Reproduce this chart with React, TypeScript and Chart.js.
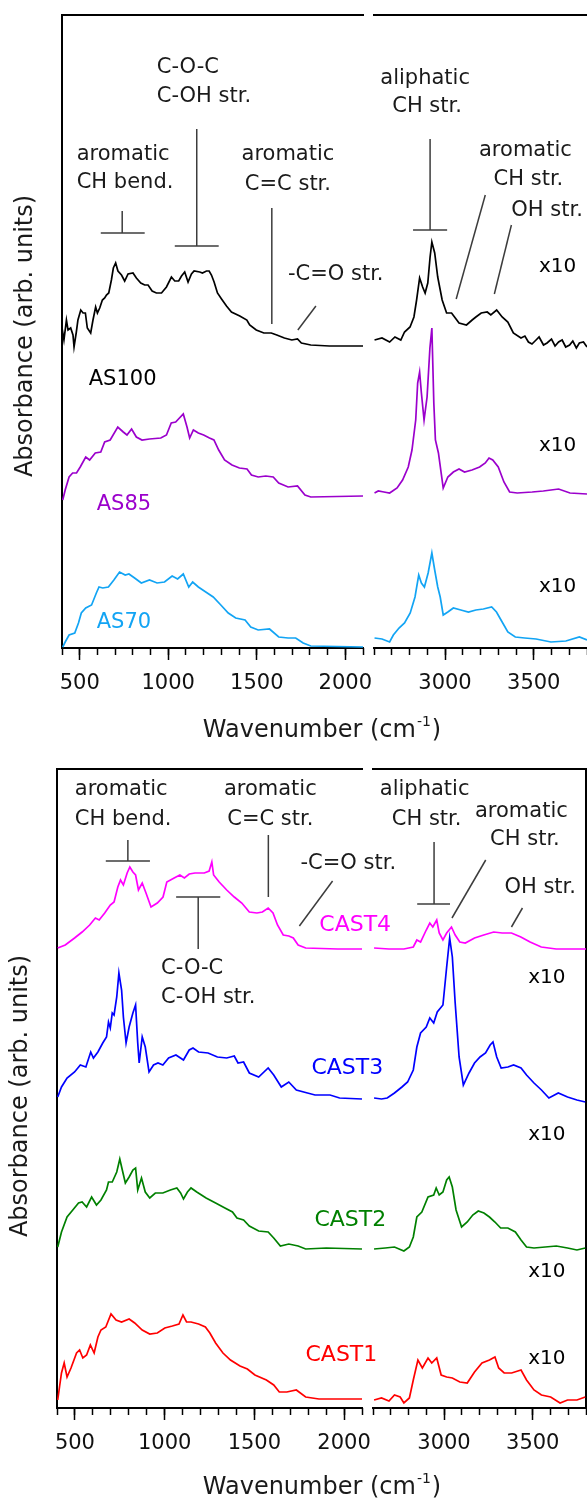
import React, { useEffect, useRef } from 'react';
import { Chart, registerables } from 'chart.js';

Chart.register(...registerables);

type Pt = [number, number];

// ---------- axes ----------
const LEFT_RANGE: Pt = [400, 2100];
const RIGHT_RANGE: Pt = [2600, 3800];
const LEFT_MAJOR_TICKS = [500, 1000, 1500, 2000];
const RIGHT_MAJOR_TICKS = [3000, 3500];
const MINOR_STEP = 100;
const X_TITLE = 'Wavenumber (cm';
const X_TITLE_SUP = '-1';
const X_TITLE_END = ')';
const Y_TITLE = 'Absorbance (arb. units)';

// ---------- top panel spectra: [wavenumber, absorbance (offset, arb.)] ----------
const AS100_LEFT: Pt[] = [[400,320],[411,308],[425,328],[434,318],[449,320],[462,313],[468,301],[481,316],[490,328],[506,338],[519,335],[532,335],[543,320],[562,315],[575,328],[590,341],[600,335],[613,340],[628,348],[641,350],[651,353],[664,355],[679,368],[690,380],[703,385],[716,377],[736,373],[754,367],[773,374],[801,375],[820,370],[845,365],[867,363],[886,363],[909,357],[933,355],[962,355],[990,361],[1018,371],[1037,367],[1059,367],[1075,372],[1093,376],[1112,366],[1131,374],[1146,377],[1178,376],[1193,375],[1216,377],[1231,377],[1244,373],[1259,366],[1278,355],[1301,349],[1329,342],[1357,336],[1404,332],[1444,328],[1460,323],[1497,318],[1540,315],[1582,315],[1613,313],[1656,310],[1698,308],[1730,309],[1752,305],[1805,303],[1910,302],[2100,302]];
const AS100_RIGHT: Pt[] = [[2603,308],[2645,310],[2688,306],[2718,311],[2751,308],[2772,316],[2803,321],[2825,331],[2840,348],[2857,370],[2874,361],[2888,355],[2903,365],[2916,391],[2926,406],[2942,395],[2959,371],[2984,348],[3009,335],[3037,335],[3058,330],[3079,325],[3121,323],[3153,328],[3174,331],[3204,335],[3238,336],[3258,333],[3291,338],[3322,331],[3354,326],[3385,315],[3428,310],[3450,312],[3470,306],[3490,304],[3513,308],[3530,311],[3555,303],[3575,305],[3600,309],[3620,302],[3640,306],[3660,308],[3680,301],[3702,303],[3720,307],[3740,300],[3757,305],[3780,306],[3800,301]];
const AS85_LEFT: Pt[] = [[404,148],[418,158],[440,171],[460,175],[482,175],[503,181],[534,191],[556,188],[588,195],[619,196],[641,206],[672,208],[715,221],[746,216],[767,213],[793,219],[820,211],[852,208],[894,209],[958,210],[990,213],[1017,225],[1042,226],[1085,234],[1106,221],[1121,210],[1142,218],[1170,215],[1200,213],[1233,210],[1258,208],[1285,198],[1318,188],[1360,183],[1402,180],[1445,179],[1470,173],[1508,171],[1551,172],[1593,171],[1624,165],[1677,161],[1730,162],[1772,153],[1805,151],[2100,152]];
const AS85_RIGHT: Pt[] = [[2603,155],[2624,157],[2656,156],[2688,155],[2730,160],[2761,168],[2793,181],[2814,198],[2835,228],[2846,265],[2857,276],[2867,255],[2882,228],[2899,251],[2915,300],[2926,320],[2937,245],[2946,208],[2963,195],[2990,160],[3016,171],[3047,176],[3079,179],[3110,176],[3152,178],[3195,181],[3227,185],[3248,190],[3269,188],[3300,181],[3332,166],[3364,156],[3407,155],[3491,156],[3554,157],[3640,159],[3704,155],[3800,154]];
const AS70_LEFT: Pt[] = [[404,1],[418,6],[440,13],[472,15],[493,25],[509,35],[534,40],[567,43],[594,55],[609,61],[630,60],[662,61],[693,68],[725,76],[757,73],[778,74],[810,70],[848,65],[894,68],[937,65],[979,66],[1022,72],[1053,69],[1085,74],[1116,61],[1138,66],[1170,61],[1212,56],[1254,51],[1297,43],[1339,35],[1381,30],[1434,28],[1466,21],[1508,18],[1572,19],[1624,11],[1677,10],[1720,10],[1762,5],[1805,2],[2100,1]];
const AS70_RIGHT: Pt[] = [[2603,10],[2645,9],[2688,6],[2709,13],[2741,20],[2772,25],[2804,35],[2831,51],[2852,73],[2867,65],[2884,61],[2905,75],[2926,95],[2942,78],[2959,61],[2973,51],[2990,33],[3016,36],[3047,40],[3089,38],[3132,36],[3174,38],[3216,39],[3263,41],[3290,36],[3322,26],[3354,16],[3396,11],[3449,10],[3513,9],[3597,6],[3681,7],[3757,11],[3800,8]];

// ---------- bottom panel spectra ----------
const CAST4_LEFT: Pt[] = [[404,460],[446,463],[498,470],[540,476],[582,483],[614,490],[635,488],[666,495],[697,503],[718,506],[739,521],[754,528],[770,523],[791,535],[806,541],[823,536],[838,533],[854,518],[875,525],[896,515],[924,501],[959,505],[991,511],[1012,526],[1053,530],[1085,533],[1110,530],[1137,534],[1169,535],[1221,535],[1248,537],[1263,546],[1273,533],[1304,526],[1346,518],[1388,511],[1430,505],[1472,496],[1514,495],[1545,496],[1577,500],[1604,495],[1629,483],[1661,473],[1692,472],[1717,470],[1744,463],[1786,460],[1964,459],[2100,459]];
const CAST4_RIGHT: Pt[] = [[2606,460],[2690,459],[2774,459],[2827,461],[2847,468],[2868,466],[2900,478],[2920,485],[2937,481],[2959,488],[2973,475],[2994,468],[3015,475],[3042,481],[3063,473],[3089,466],[3120,465],[3172,470],[3224,473],[3280,476],[3328,475],[3380,475],[3433,471],[3485,466],[3548,461],[3632,459],[3695,459],[3788,459],[3800,459]];
const CAST3_LEFT: Pt[] = [[404,311],[425,321],[456,330],[498,336],[530,343],[561,341],[588,356],[603,350],[628,356],[655,365],[676,371],[687,386],[697,380],[708,395],[718,393],[733,411],[745,435],[760,418],[770,391],[785,365],[802,381],[823,395],[838,403],[850,365],[858,345],[875,371],[892,361],[913,336],[938,343],[963,345],[990,343],[1022,350],[1063,353],[1105,348],[1137,358],[1158,360],[1189,356],[1242,355],[1294,351],[1346,350],[1388,352],[1409,345],[1440,346],[1472,335],[1524,331],[1577,340],[1608,333],[1650,321],[1692,326],[1734,318],[1796,315],[1838,313],[1922,313],[1975,310],[2100,309]];
const CAST3_RIGHT: Pt[] = [[2606,310],[2648,309],[2680,310],[2721,315],[2763,321],[2795,326],[2827,338],[2847,361],[2868,375],[2900,381],[2920,390],[2942,385],[2962,396],[2994,403],[3015,441],[3032,470],[3047,451],[3063,405],[3085,351],[3109,323],[3141,335],[3172,345],[3203,351],[3234,355],[3260,363],[3276,366],[3297,351],[3322,340],[3360,341],[3392,343],[3434,340],[3465,333],[3507,325],[3549,318],[3591,310],[3644,315],[3696,311],[3749,308],[3796,306]];
const CAST2_LEFT: Pt[] = [[404,161],[425,176],[456,191],[488,198],[520,205],[540,206],[565,201],[593,211],[620,203],[645,208],[676,218],[687,226],[708,226],[733,236],[750,249],[764,238],[781,225],[802,231],[823,238],[838,240],[850,218],[871,230],[892,216],[917,210],[948,215],[990,215],[1032,218],[1068,220],[1089,215],[1105,209],[1127,216],[1147,220],[1179,216],[1231,210],[1284,205],[1336,200],[1378,196],[1403,190],[1440,188],[1472,182],[1524,177],[1577,176],[1608,170],[1645,162],[1692,164],[1744,162],[1786,159],[1901,160],[2100,159]];
const CAST2_RIGHT: Pt[] = [[2606,159],[2669,160],[2721,161],[2774,157],[2805,161],[2827,171],[2847,191],[2875,196],[2910,211],[2942,213],[2956,220],[2973,213],[2994,216],[3015,228],[3029,231],[3047,221],[3068,198],[3099,181],[3131,186],[3162,193],[3193,197],[3225,195],[3256,191],[3287,186],[3319,180],[3360,180],[3402,176],[3434,168],[3465,161],[3507,160],[3570,161],[3633,162],[3696,160],[3749,158],[3796,160]];
const CAST1_LEFT: Pt[] = [[404,8],[414,21],[425,35],[440,45],[456,31],[478,40],[509,55],[526,58],[544,50],[565,53],[586,63],[607,55],[628,71],[645,78],[672,81],[701,94],[729,88],[760,86],[802,89],[833,85],[875,78],[917,74],[959,75],[1001,80],[1043,82],[1080,84],[1102,93],[1122,86],[1147,86],[1189,84],[1227,81],[1252,75],[1284,65],[1325,55],[1367,48],[1420,42],[1461,39],[1503,33],[1567,28],[1608,23],[1639,16],[1681,16],[1734,18],[1786,11],[1860,9],[2100,9]];
const CAST1_RIGHT: Pt[] = [[2606,8],[2648,10],[2690,7],[2721,13],[2753,11],[2774,5],[2805,10],[2827,28],[2853,48],[2878,40],[2910,50],[2931,45],[2959,50],[2984,33],[3015,31],[3047,30],[3089,26],[3131,25],[3172,36],[3214,45],[3256,48],[3287,51],[3308,40],[3339,35],[3381,35],[3434,38],[3465,28],[3507,18],[3549,13],[3601,11],[3654,5],[3696,8],[3749,8],[3796,11]];

// ---------- styles ----------
const FONT = '"DejaVu Sans", sans-serif';
const COLORS = {
  AS100: '#000000', AS85: '#9b00cc', AS70: '#12a4f4',
  CAST4: '#ff00ff', CAST3: '#0000ff', CAST2: '#008000', CAST1: '#ff0000',
};
const TEXT_COLOR = '#1a1a1a';
const LINE_COLOR = '#3c3c3c';
const W = 587;

type Series = { color: string; left: Pt[]; right: Pt[] };
const TOP_SERIES: Series[] = [
  { color: COLORS.AS100, left: AS100_LEFT, right: AS100_RIGHT },
  { color: COLORS.AS85, left: AS85_LEFT, right: AS85_RIGHT },
  { color: COLORS.AS70, left: AS70_LEFT, right: AS70_RIGHT },
];
const BOTTOM_SERIES: Series[] = [
  { color: COLORS.CAST4, left: CAST4_LEFT, right: CAST4_RIGHT },
  { color: COLORS.CAST3, left: CAST3_LEFT, right: CAST3_RIGHT },
  { color: COLORS.CAST2, left: CAST2_LEFT, right: CAST2_RIGHT },
  { color: COLORS.CAST1, left: CAST1_LEFT, right: CAST1_RIGHT },
];

type Ann =
  | { kind: 'text'; text: string; x: number; y: number; align?: CanvasTextAlign; color?: string; size?: number }
  | { kind: 'line'; x1: number; y1: number; x2: number; y2: number };

const T = (text: string, x: number, y: number, align: CanvasTextAlign = 'left', color?: string, size?: number): Ann => ({ kind: 'text', text, x, y, align, color, size });
const L = (x1: number, y1: number, x2: number, y2: number): Ann => ({ kind: 'line', x1, y1, x2, y2 });

const TOP_LEFT_ANN: Ann[] = [
  T('C-O-C', 935, 580), T('C-OH str.', 935, 551),
  L(1161, 519, 1161, 402), L(1037, 402, 1285, 402),
  T('aromatic', 483, 493), T('CH bend.', 483, 465),
  L(740, 437, 740, 415), L(619, 415, 867, 415),
  T('aromatic', 1676, 493, 'center'), T('C=C str.', 1676, 463, 'center'),
  L(1585, 440, 1585, 324),
  T('-C=O str.', 1676, 373),
  L(1834, 342, 1732, 318),
  T('AS100', 551, 268, 'left', COLORS.AS100, 21),
  T('AS85', 596, 143, 'left', COLORS.AS85, 21),
  T('AS70', 596, 25, 'left', COLORS.AS70, 21),
];
const TOP_RIGHT_ANN: Ann[] = [
  T('aliphatic', 2888, 569, 'center'), T('CH str.', 2899, 541, 'center'),
  L(2916, 509, 2916, 418), L(2820, 418, 3012, 418),
  T('aromatic', 3453, 497, 'center'), T('CH str.', 3470, 468, 'center'),
  T('OH str.', 3575, 437, 'center'),
  L(3227, 453, 3063, 349), L(3374, 423, 3278, 354),
  T('x10', 3634, 381, 'center', '#000', 20),
  T('x10', 3634, 202, 'center', '#000', 20),
  T('x10', 3634, 61, 'center', '#000', 20),
];
const BOTTOM_LEFT_ANN: Ann[] = [
  T('aromatic', 499, 618), T('CH bend.', 499, 588),
  L(795, 568, 795, 547), L(672, 547, 918, 547),
  T('aromatic', 1589, 618, 'center'), T('C=C str.', 1589, 588, 'center'),
  L(1578, 573, 1578, 511),
  T('-C=O str.', 1757, 544),
  L(1936, 527, 1751, 482),
  L(1064, 511, 1310, 511), L(1187, 511, 1187, 459),
  T('C-O-C', 980, 439), T('C-OH str.', 980, 410),
  T('CAST4', 1862, 483, 'left', COLORS.CAST4, 22),
  T('CAST3', 1818, 340, 'left', COLORS.CAST3, 22),
  T('CAST2', 1835, 188, 'left', COLORS.CAST2, 22),
  T('CAST1', 1785, 53, 'left', COLORS.CAST1, 22),
];
const BOTTOM_RIGHT_ANN: Ann[] = [
  T('aliphatic', 2891, 618, 'center'), T('CH str.', 2902, 588, 'center'),
  L(2944, 566, 2944, 504), L(2849, 504, 3034, 504),
  T('aromatic', 3436, 596, 'center'), T('CH str.', 3456, 568, 'center'),
  L(3235, 548, 3045, 490),
  T('OH str.', 3542, 520, 'center'),
  L(3442, 500, 3380, 481),
  T('x10', 3579, 430, 'center', '#000', 20),
  T('x10', 3579, 273, 'center', '#000', 20),
  T('x10', 3579, 136, 'center', '#000', 20),
  T('x10', 3579, 49, 'center', '#000', 20),
];

type Panel = {
  canvasTop: number; canvasH: number; plotTop: number; plotBottom: number;
  leftL: number; leftR: number; rightL: number; rightR: number;
  ymax: number; rightBorder: boolean; yTitleY: number; xTitleGap: number;
  series: Series[]; annL: Ann[]; annR: Ann[];
};

const PANELS: Panel[] = [
  { canvasTop: 0, canvasH: 750, plotTop: 15, plotBottom: 648, leftL: 62, leftR: 363, rightL: 374, rightR: 587,
    ymax: 633, rightBorder: false, yTitleY: 336, xTitleGap: 83, series: TOP_SERIES, annL: TOP_LEFT_ANN, annR: TOP_RIGHT_ANN },
  { canvasTop: 750, canvasH: 752, plotTop: 769, plotBottom: 1408, leftL: 57, leftR: 362, rightL: 373, rightR: 586,
    ymax: 639, rightBorder: true, yTitleY: 1096, xTitleGap: 80, series: BOTTOM_SERIES, annL: BOTTOM_LEFT_ANN, annR: BOTTOM_RIGHT_ANN },
];

function annPlugin(anns: Ann[]) {
  return {
    id: 'annotations',
    afterDraw(chart: any) {
      const { ctx } = chart;
      const xs = chart.scales.x;
      const ys = chart.scales.y;
      ctx.save();
      for (const a of anns) {
        if (a.kind === 'line') {
          ctx.strokeStyle = LINE_COLOR;
          ctx.lineWidth = 1.5;
          ctx.beginPath();
          ctx.moveTo(xs.getPixelForValue(a.x1), ys.getPixelForValue(a.y1));
          ctx.lineTo(xs.getPixelForValue(a.x2), ys.getPixelForValue(a.y2));
          ctx.stroke();
        } else {
          ctx.font = `${a.size ?? 21}px ${FONT}`;
          ctx.fillStyle = a.color ?? TEXT_COLOR;
          ctx.textAlign = a.align ?? 'left';
          ctx.textBaseline = 'middle';
          ctx.fillText(a.text, xs.getPixelForValue(a.x), ys.getPixelForValue(a.y));
        }
      }
      ctx.restore();
    },
  };
}

function titlePlugin(panel: Panel) {
  return {
    id: 'titles',
    afterDraw(chart: any) {
      const { ctx } = chart;
      ctx.save();
      ctx.fillStyle = TEXT_COLOR;
      // y title
      ctx.save();
      ctx.translate(panel.leftL - 36, panel.yTitleY - panel.canvasTop);
      ctx.rotate(-Math.PI / 2);
      ctx.font = `24px ${FONT}`;
      ctx.textAlign = 'center';
      ctx.textBaseline = 'middle';
      ctx.fillText(Y_TITLE, 0, 0);
      ctx.restore();
      // x title with superscript
      const big = `24px ${FONT}`;
      const small = `14px ${FONT}`;
      ctx.font = big;
      const w1 = ctx.measureText(X_TITLE).width;
      const w3 = ctx.measureText(X_TITLE_END).width;
      ctx.font = small;
      const w2 = ctx.measureText(X_TITLE_SUP).width;
      const total = w1 + w2 + w3 + 2;
      let x = 322 - total / 2;
      const y = panel.plotBottom + panel.xTitleGap - panel.canvasTop;
      ctx.textAlign = 'left';
      ctx.textBaseline = 'middle';
      ctx.font = big;
      ctx.fillText(X_TITLE, x, y);
      x += w1 + 1;
      ctx.font = small;
      ctx.fillText(X_TITLE_SUP, x, y - 9);
      x += w2 + 1;
      ctx.font = big;
      ctx.fillText(X_TITLE_END, x, y);
      ctx.restore();
    },
  };
}

function makeChart(canvas: HTMLCanvasElement, panel: Panel, isLeft: boolean) {
  const range = isLeft ? LEFT_RANGE : RIGHT_RANGE;
  const major = isLeft ? LEFT_MAJOR_TICKS : RIGHT_MAJOR_TICKS;
  const canvasLeft = isLeft ? 0 : panel.leftR;
  const plotL = isLeft ? panel.leftL : panel.rightL;
  const plotR = isLeft ? panel.leftR : panel.rightR;
  const bottomH = panel.canvasTop + panel.canvasH - panel.plotBottom;
  const black = '#000000';

  const scales: any = {
    x: {
      type: 'linear', position: 'bottom', min: range[0], max: range[1],
      afterFit: (s: any) => { s.height = bottomH; },
      afterBuildTicks: (s: any) => { s.ticks = major.map((value) => ({ value })); },
      ticks: {
        autoSkip: false, maxRotation: 0, minRotation: 0, padding: 11, color: '#111',
        font: { family: FONT, size: 21 },
        callback: (v: any) => String(v),
      },
      grid: { display: true, drawOnChartArea: false, drawTicks: true, tickLength: 12, tickWidth: 1.5, tickColor: black },
      border: { display: true, color: black, width: 2 },
    },
    xMinor: {
      type: 'linear', position: { y: 0 }, min: range[0], max: range[1],
      afterBuildTicks: (s: any) => {
        const t: any[] = [];
        for (let v = range[0]; v <= range[1]; v += MINOR_STEP) t.push({ value: v });
        s.ticks = t;
      },
      ticks: { display: false },
      grid: { display: true, drawOnChartArea: false, drawTicks: true, tickLength: 7, tickWidth: 1.5, tickColor: black },
      border: { display: false },
    },
    xTop: {
      type: 'linear', position: 'top', min: range[0], max: range[1],
      afterFit: (s: any) => { s.height = 0; },
      ticks: { display: false },
      grid: { display: false },
      border: { display: true, color: black, width: 2 },
    },
    y: {
      type: 'linear', position: 'left', min: 0, max: panel.ymax, display: isLeft,
      afterFit: (s: any) => { s.width = 0; },
      ticks: { display: false },
      grid: { display: false },
      border: { display: true, color: black, width: 2 },
    },
  };
  if (!isLeft && panel.rightBorder) {
    scales.yR = {
      type: 'linear', position: 'right', min: 0, max: panel.ymax,
      afterFit: (s: any) => { s.width = 0; },
      ticks: { display: false },
      grid: { display: false },
      border: { display: true, color: black, width: 2 },
    };
  }

  const datasets = panel.series.map((s) => ({
    data: (isLeft ? s.left : s.right).map(([x, y]) => ({ x, y })),
    borderColor: s.color,
    borderWidth: 1.7,
    pointRadius: 0,
    tension: 0,
    fill: false,
    xAxisID: 'x',
    yAxisID: 'y',
  }));

  const plugins: any[] = [annPlugin(isLeft ? panel.annL : panel.annR)];
  if (isLeft) plugins.push(titlePlugin(panel));

  return new Chart(canvas, {
    type: 'line',
    data: { datasets },
    options: {
      animation: false,
      responsive: false,
      devicePixelRatio: 1,
      events: [],
      layout: {
        padding: {
          left: plotL - canvasLeft,
          right: W - plotR,
          top: panel.plotTop - panel.canvasTop,
          bottom: 0,
        },
      },
      plugins: { legend: { display: false }, tooltip: { enabled: false }, title: { display: false } },
      scales,
    } as any,
    plugins,
  });
}

export default function App() {
  const refs = [useRef<HTMLCanvasElement>(null), useRef<HTMLCanvasElement>(null), useRef<HTMLCanvasElement>(null), useRef<HTMLCanvasElement>(null)];

  useEffect(() => {
    const charts: Chart[] = [];
    PANELS.forEach((panel, i) => {
      const cl = refs[i * 2].current;
      const cr = refs[i * 2 + 1].current;
      if (cl) charts.push(makeChart(cl, panel, true));
      if (cr) charts.push(makeChart(cr, panel, false));
    });
    return () => charts.forEach((c) => c.destroy());
  }, []);

  return (
    <div style={{ position: 'absolute', left: 0, top: 0, width: W, height: 1502, background: '#ffffff', overflow: 'hidden' }}>
      {PANELS.map((panel, i) => (
        <React.Fragment key={i}>
          <canvas
            ref={refs[i * 2]}
            width={W}
            height={panel.canvasH}
            style={{ position: 'absolute', left: 0, top: panel.canvasTop, width: W, height: panel.canvasH }}
          />
          <canvas
            ref={refs[i * 2 + 1]}
            width={W - panel.leftR}
            height={panel.canvasH}
            style={{ position: 'absolute', left: panel.leftR, top: panel.canvasTop, width: W - panel.leftR, height: panel.canvasH }}
          />
        </React.Fragment>
      ))}
    </div>
  );
}
